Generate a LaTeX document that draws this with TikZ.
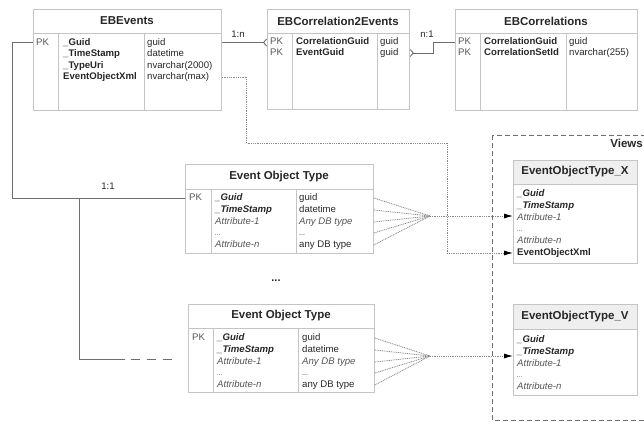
\documentclass[tikz,border=0pt]{standalone}
\usepackage{fontspec}
\setmainfont{Liberation Sans}
\usetikzlibrary{arrows.meta, positioning}

\definecolor{tblgray}{HTML}{C4C4C4}
\definecolor{linegray}{HTML}{6E6E6E}
\definecolor{dotgray}{HTML}{8A8A8A}
\definecolor{txtdark}{HTML}{262626}
\definecolor{txtsoft}{HTML}{555555}
\definecolor{hdrfill}{HTML}{EFEFEF}

\begin{document}
\begin{tikzpicture}[x=1pt, y=-1pt,
  tbl/.style={draw=tblgray, line width=0.8pt, anchor=north west, inner sep=0},
  sep/.style={draw=tblgray, line width=0.8pt},
  hdr/.style={font=\fontsize{11.5}{13}\selectfont\bfseries, text=txtdark},
  fld/.style={anchor=west, inner sep=0, text height=7pt, text depth=2pt, font=\fontsize{9.6}{11}\selectfont, text=txtdark},
  fldb/.style={fld, font=\fontsize{9.6}{11}\selectfont\bfseries},
  fldbi/.style={fld, font=\fontsize{9.6}{11}\selectfont\bfseries\itshape},
  key/.style={fld, text=txtsoft},
  attr/.style={fld, font=\fontsize{9.6}{11}\selectfont\itshape, text=txtsoft},
  card/.style={font=\fontsize{9.6}{11}\selectfont, text=txtdark, inner sep=0},
  conn/.style={draw=linegray, line width=0.9pt},
  crow/.tip={Straight Barb[reversed, length=3pt, width=7pt]},
  dots/.style={draw=dotgray, line width=0.8pt, dash pattern=on 1pt off 0.8pt},
  tip/.style={-{Latex[length=9pt, width=5pt, color=black]}},
  viewbox/.style={draw=linegray, line width=0.9pt, dash pattern=on 5pt off 3pt}]
\useasboundingbox (0,0) rectangle (644,421);

% EBEvents
\node[tbl, minimum width=188, minimum height=101] (ebevents) at (33,9) {};
\draw[sep] (33,33) -- (221,33) (58,33) -- (58,110) (144,33) -- (144,110);
\node[hdr] (ebeventsh) at (127,21) {EBEvents};
\node[key] (evpk) at (36,42.5) {PK};
\node[fldb] (evguid) at (63,42.5) {\_Guid};
\node[fldb] (evstamp) at (63,54) {\_TimeStamp};
\node[fldb] (evuri) at (63,65.5) {\_TypeUri};
\node[fldb] (evxml) at (63,77) {EventObjectXml};
\node[fld] (evtguid) at (147,42.5) {guid};
\node[fld] (evtstamp) at (147,54) {datetime};
\node[fld] (evturi) at (147,65.5) {nvarchar(2000)};
\node[fld] (evtxml) at (147,77) {nvarchar(max)};

% EBCorrelation2Events
\node[tbl, minimum width=142, minimum height=100] (c2e) at (267,9) {};
\draw[sep] (267,33) -- (409,33) (292,33) -- (292,109) (377,33) -- (377,109);
\node[hdr] (c2eh) at (338,21) {EBCorrelation2Events};
\node[key] (c2epk1) at (270,42) {PK};
\node[key] (c2epk2) at (270,53) {PK};
\node[fldb] (c2ecg) at (296,42) {CorrelationGuid};
\node[fldb] (c2eeg) at (296,53) {EventGuid};
\node[fld] (c2etcg) at (380,42) {guid};
\node[fld] (c2eteg) at (380,53) {guid};

% EBCorrelations
\node[tbl, minimum width=182, minimum height=101] (ebcorr) at (455,9) {};
\draw[sep] (455,33) -- (637,33) (480,33) -- (480,110) (566,33) -- (566,110);
\node[hdr] (ebcorrh) at (546,21) {EBCorrelations};
\node[key] (ebcpk1) at (458,42) {PK};
\node[key] (ebcpk2) at (458,53) {PK};
\node[fldb] (ebccg) at (484,42) {CorrelationGuid};
\node[fldb] (ebcsid) at (484,53) {CorrelationSetId};
\node[fld] (ebctcg) at (569,42) {guid};
\node[fld] (ebctsid) at (569,53) {nvarchar(255)};

% Event Object Type (first)
\node[tbl, minimum width=188, minimum height=89] (eot1) at (185,164) {};
\draw[sep] (185,189) -- (373,189) (211,189) -- (211,253) (296,189) -- (296,253);
\node[hdr] (eot1h) at (279,176.5) {Event Object Type};
\node[key] (eot1pk) at (189,198) {PK};
\node[fldbi] (x1f1) at (215,198) {\_Guid};
\node[fldbi] (x1f2) at (215,210) {\_TimeStamp};
\node[attr] (x1f3) at (215,222) {Attribute-1};
\node[attr] (x1f4) at (215,233) {\scriptsize ...};
\node[attr] (x1f5) at (215,245) {Attribute-n};
\node[fld] (x1t1) at (299,198) {guid};
\node[fld] (x1t2) at (299,210) {datetime};
\node[attr] (x1t3) at (299,222) {Any DB type};
\node[fld] (x1t4) at (299,233) {\scriptsize ...};
\node[fld] (x1t5) at (299,245) {any DB type};

\node[font=\fontsize{11}{13}\selectfont\bfseries, text=txtdark] (more) at (276,281) {...};

% Event Object Type (last)
\node[tbl, minimum width=186, minimum height=88] (eot2) at (188,304) {};
\draw[sep] (188,328) -- (374,328) (213,328) -- (213,392) (298,328) -- (298,392);
\node[hdr] (eot2h) at (281,316) {Event Object Type};
\node[key] (eot2pk) at (192,338) {PK};
\node[fldbi] (x2f1) at (217,338) {\_Guid};
\node[fldbi] (x2f2) at (217,350) {\_TimeStamp};
\node[attr] (x2f3) at (217,362) {Attribute-1};
\node[attr] (x2f4) at (217,373) {\scriptsize ...};
\node[attr] (x2f5) at (217,385) {Attribute-n};
\node[fld] (x2t1) at (302,338) {guid};
\node[fld] (x2t2) at (302,350) {datetime};
\node[attr] (x2t3) at (302,362) {Any DB type};
\node[fld] (x2t4) at (302,373) {\scriptsize ...};
\node[fld] (x2t5) at (302,385) {any DB type};

% Views
\draw[viewbox] (492,135) rectangle (664,420);
\node[hdr, anchor=north east, inner sep=0] (views) at (643,139) {Views};

\fill[hdrfill] (513,160) rectangle (637,184);
\node[tbl, minimum width=124, minimum height=103] (viewx) at (513,160) {};
\draw[sep] (513,184) -- (637,184);
\node[hdr] (viewxh) at (575,172) {EventObjectType\_X};
\node[fldbi] (vxf1) at (517,194) {\_Guid};
\node[fldbi] (vxf2) at (517,206) {\_TimeStamp};
\node[attr] (vxf3) at (517,218) {Attribute-1};
\node[attr] (vxf4) at (517,229) {\scriptsize ...};
\node[attr] (vxf5) at (517,241) {Attribute-n};
\node[fldb] (vxxml) at (517,253) {EventObjectXml};

\fill[hdrfill] (513,304) rectangle (637,329);
\node[tbl, minimum width=124, minimum height=91] (viewv) at (513,304) {};
\draw[sep] (513,329) -- (637,329);
\node[hdr] (viewvh) at (575,316.5) {EventObjectType\_V};
\node[fldbi] (vvf1) at (517,340) {\_Guid};
\node[fldbi] (vvf2) at (517,352) {\_TimeStamp};
\node[attr] (vvf3) at (517,363.5) {Attribute-1};
\node[attr] (vvf4) at (517,374.5) {\scriptsize ...};
\node[attr] (vvf5) at (517,386.5) {Attribute-n};

% relations
\draw[conn, -{crow}] (ebevents.east |- evguid) -- (c2e.west |- evguid);
\node[card] (onen) at (238,34) {1:n};
\draw[conn, {crow}-] (c2e.east |- c2eeg) -- ++(24,0) |- (ebcorr.west |- ebccg);
\node[card] (nonel) at (427,34) {n:1};

\coordinate (split) at (79,198);
\draw[conn] (ebevents.west |- evpk) -- ++(-21,0) |- (eot1.west |- eot1pk);
\node[card] (oneone) at (108,186) {1:1};
\draw[conn] (split) |- ++(46,161) coordinate (dashstart);
\draw[conn, dash pattern=on 9pt off 7pt] ([xshift=6pt]dashstart) -- ++(45,0);

% mapping to views
\coordinate (fanx) at (430,216);
\coordinate (fanv) at (430,356);
\foreach \r in {1,...,5} {
  \draw[dots] (eot1.east |- x1t\r) -- (fanx);
  \draw[dots] (eot2.east |- x2t\r) -- (fanv);
}
\draw[dots, tip] (fanx) -- (fanx -| viewx.west);
\draw[dots, tip] (fanv) -- (fanv -| viewv.west);
\draw[dots, tip] (ebevents.east |- evtxml) -| ++(25,66) -| (447,143) |- (viewx.west |- vxxml);
\end{tikzpicture}
\end{document}
